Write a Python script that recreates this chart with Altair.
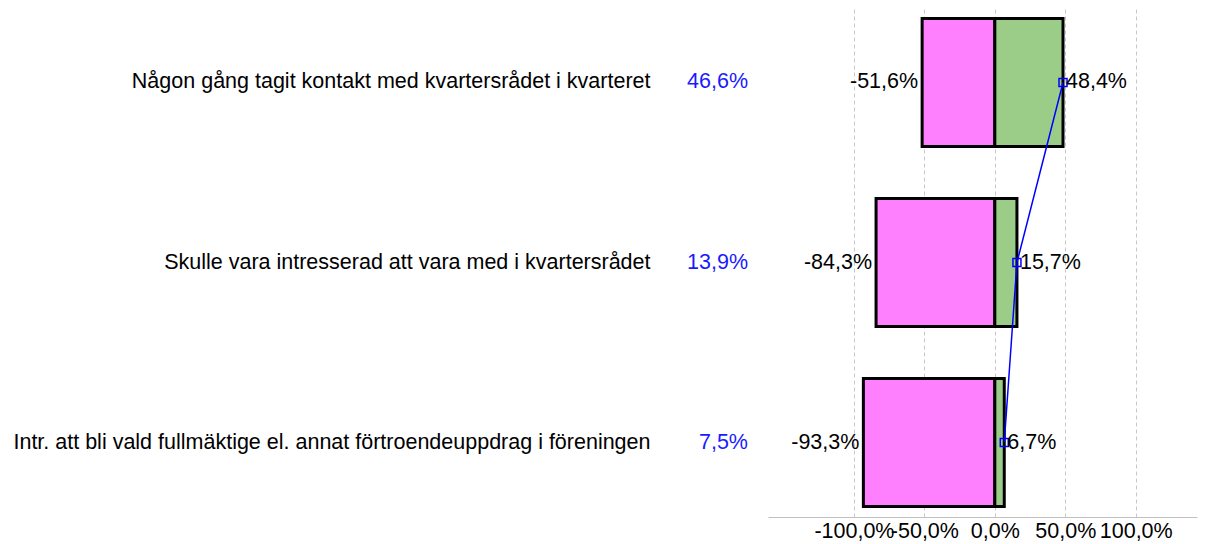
import altair as alt
import pandas as pd

categories = [
    "Någon gång tagit kontakt med kvartersrådet i kvarteret",
    "Skulle vara intresserad att vara med i kvartersrådet",
    "Intr. att bli vald fullmäktige el. annat förtroendeuppdrag i föreningen",
]
neg_values = [-51.6, -84.3, -93.3]
pos_values = [48.4, 15.7, 6.7]
side_values = [46.6, 13.9, 7.5]
tick_values = [-100, -50, 0, 50, 100]

def fmt(v):
    return f"{v:.1f}".replace(".", ",") + "%"

df = pd.DataFrame({
    "cat": categories,
    "neg": neg_values,
    "pos": pos_values,
    "side": side_values,
    "order": list(range(len(categories))),
})
df["zero"] = 0
df["neg_lbl"] = [fmt(v) for v in neg_values]
df["pos_lbl"] = [fmt(v) for v in pos_values]
df["side_lbl"] = [fmt(v) for v in side_values]

FONT = "Liberation Sans"
FS = 21.5

xscale = alt.Scale(domain=[-161, 143.5], nice=False, zero=False)
yscale = alt.Scale(domain=categories, paddingInner=0.289, paddingOuter=0.058)

xaxis = alt.Axis(
    values=tick_values,
    labelExpr="replace(replace(format(datum.value, '.1f'), '.', ','), '\u2212', '-') + '%'",
    title=None, ticks=False, grid=True, gridDash=[4, 3], gridColor="#c8c8c8",
    domainColor="#c0c0c0", labelFontSize=FS, labelFont=FONT, labelColor="black",
    labelPadding=3, labelFlush=False, labelOverlap=False,
)
yaxis = alt.Axis(
    title=None, ticks=False, domain=False, grid=False, labelFontSize=FS,
    labelFont=FONT, labelColor="black", labelPadding=118, labelLimit=1000,
)

base = alt.Chart(df)

neg_bar = base.mark_bar(color="#ff80ff", stroke="black", strokeWidth=3).encode(
    y=alt.Y("cat:N", scale=yscale, axis=yaxis, sort=categories),
    x=alt.X("neg:Q", scale=xscale, axis=xaxis),
    x2="zero:Q",
)
pos_bar = base.mark_bar(color="#9ccd88", stroke="black", strokeWidth=3).encode(
    y=alt.Y("cat:N", sort=categories),
    x=alt.X("zero:Q"),
    x2="pos:Q",
)
line = base.mark_line(color="#0000ff", strokeWidth=1.5).encode(
    y=alt.Y("cat:N", sort=categories),
    x="pos:Q",
    order="order:Q",
)
pts = base.mark_point(shape="square", filled=False, color="#0000ff", size=64, strokeWidth=1.5, opacity=1).encode(
    y=alt.Y("cat:N", sort=categories),
    x="pos:Q",
)
neg_txt = base.mark_text(align="right", baseline="middle", dx=-4, fontSize=FS, font=FONT, color="black").encode(
    y=alt.Y("cat:N", sort=categories),
    x="neg:Q",
    text="neg_lbl:N",
)
pos_txt = base.mark_text(align="left", baseline="middle", dx=3, fontSize=FS, font=FONT, color="black").encode(
    y=alt.Y("cat:N", sort=categories),
    x="pos:Q",
    text="pos_lbl:N",
)
side_txt = base.mark_text(align="right", baseline="middle", fontSize=FS, font=FONT, color="#1a1aff").encode(
    y=alt.Y("cat:N", sort=categories),
    x=alt.value(-20),
    text="side_lbl:N",
)

chart = alt.layer(neg_bar, pos_bar, line, pts, neg_txt, pos_txt, side_txt).properties(
    width=429, height=509,
    padding={"left": 760, "top": 0, "right": 10, "bottom": 30},
    autosize="none",
    background="white",
).configure_view(strokeWidth=0, stroke=None)

chart.save("out.html", embed_options={"renderer": "svg", "actions": False})
